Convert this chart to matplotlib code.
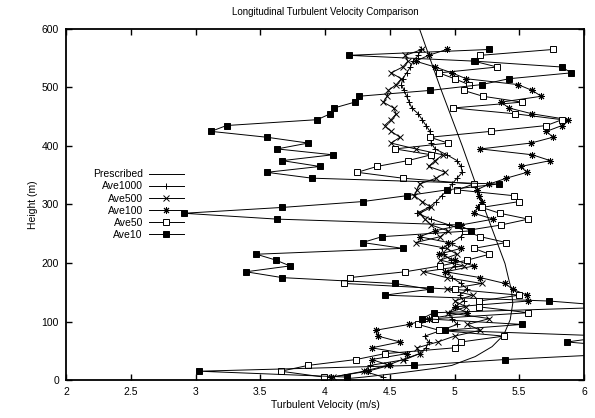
#!/usr/bin/env python3
"""Longitudinal turbulent velocity: prescribed profile vs running averages."""
import numpy as np
import matplotlib
matplotlib.use("Agg")
import matplotlib.pyplot as plt

# sample heights (m), shared by all averaged series
heights = np.arange(565, 0, -10)

# prescribed profile (height, velocity)
presc_h = [3, 5, 10, 15, 20, 25, 40, 57, 77, 103, 131, 154, 171, 199, 300, 400, 500, 600]
presc_u = [4.20, 4.30, 4.50, 4.68, 4.85, 4.98, 5.16, 5.29, 5.38, 5.43, 5.45, 5.44,
           5.42, 5.39, 5.22, 5.06, 4.89, 4.73]

# averaged series, listed from top (565 m) down to 5 m
ave1000 = [4.74, 4.72, 4.68, 4.66, 4.63, 4.60, 4.59, 4.61, 4.63, 4.65,
           4.67, 4.72, 4.75, 4.78, 4.81, 4.82, 4.82, 4.85, 4.94, 5.02,
           5.05, 5.06, 5.02, 4.98, 4.95, 4.90, 4.86, 4.80, 4.71, 4.82,
           4.96, 5.09, 5.05, 4.98, 4.90, 4.92, 4.97, 5.00, 4.95, 4.98,
           5.05, 5.10, 5.04, 5.07, 5.00, 4.96, 4.98, 5.02, 4.90, 4.77,
           4.80, 4.78, 4.73, 4.62, 4.35, 4.30, 4.45]
ave500 = [4.75, 4.62, 4.64, 4.60, 4.51, 4.59, 4.55, 4.49, 4.48, 4.45,
          4.53, 4.55, 4.51, 4.46, 4.51, 4.58, 4.51, 4.70, 4.91, 4.85,
          4.80, 4.93, 4.86, 4.73, 4.71, 4.69, 4.75, 4.82, 4.73, 4.77,
          4.82, 4.95, 4.89, 4.70, 4.94, 5.02, 4.89, 5.07, 4.76, 4.94,
          5.21, 4.94, 5.14, 5.00, 5.09, 4.95, 5.27, 5.10, 5.20, 5.00,
          4.87, 4.71, 4.73, 4.60, 4.48, 4.30, 4.06]
ave100 = [4.94, 4.80, 4.70, 4.85, 4.98, 5.09, 5.49, 5.60, 5.67, 5.36,
          5.42, 5.60, 5.88, 5.83, 5.71, 5.76, 5.59, 5.20, 5.60, 5.74,
          5.51, 5.56, 5.40, 5.27, 5.17, 5.19, 5.21, 5.18, 5.15, 5.30,
          5.05, 4.85, 4.73, 4.95, 5.05, 4.88, 5.00, 5.15, 4.93, 5.20,
          5.39, 5.45, 5.56, 5.57, 5.00, 5.10, 4.80, 4.65, 4.39, 4.41,
          4.58, 4.36, 4.63, 4.36, 4.50, 4.33, 4.05]
ave50 = [5.76, 5.20, 5.15, 5.33, 4.88, 5.00, 5.11, 5.07, 5.22, 5.52,
         4.99, 5.47, 5.83, 5.71, 5.28, 4.81, 4.95, 4.54, 4.82, 4.64,
         4.40, 4.25, 4.60, 5.15, 5.02, 5.46, 5.50, 5.21, 5.35, 5.57,
         5.36, 5.08, 5.20, 5.40, 5.15, 5.27, 5.10, 4.89, 4.62, 4.19,
         4.15, 5.00, 5.50, 5.19, 5.19, 5.57, 4.85, 4.72, 4.88, 5.38,
         5.05, 5.00, 4.46, 4.24, 3.87, 3.66, 3.99]
ave10 = [5.27, 4.185, 5.16, 5.83, 5.90, 5.42, 5.21, 4.81, 4.26, 4.23,
         4.07, 4.04, 3.94, 3.24, 3.12, 3.55, 3.87, 3.63, 4.06, 3.67,
         3.96, 3.55, 3.90, 5.34, 4.94, 4.63, 4.29, 3.67, 2.91, 3.63,
         5.03, 5.13, 4.44, 4.29, 4.60, 3.47, 3.62, 3.73, 3.39, 3.67,
         4.54, 4.81, 4.46, 5.73, 6.30, 4.84, 4.75, 5.52, 4.93, 6.20,
         5.87, 6.40, 6.30, 5.39, 4.69, 3.03, 4.17]

plt.rcParams["font.family"] = ["Liberation Sans", "DejaVu Sans"]
plt.rcParams["font.size"] = 7.5

fig = plt.figure(figsize=(5.95, 4.18), dpi=100)
ax = fig.add_axes([66 / 595, 38 / 418, 518 / 595, 351 / 418])

lw = 0.7
asterisk = (8, 2, 0)  # gnuplot-style "+ and x" star
ax.plot(presc_u, presc_h, color="k", lw=lw, label="Prescribed")
ax.plot(ave1000, heights, color="k", lw=lw, marker="+", ms=5, mew=0.7, label="Ave1000")
ax.plot(ave500, heights, color="k", lw=lw, marker="x", ms=4.2, mew=0.7, label="Ave500")
ax.plot(ave100, heights, color="k", lw=lw, marker=asterisk, ms=5, mew=0.7, label="Ave100")
ax.plot(ave50, heights, color="k", lw=lw, marker="s", ms=4, mfc="white", mew=0.7, label="Ave50")
ax.plot(ave10, heights, color="k", lw=lw, marker="s", ms=4.3, mfc="k", mew=0.7, label="Ave10")

ax.set_xlim(2, 6)
ax.set_ylim(0, 600)
ax.set_xticks(np.arange(2, 6.01, 0.5))
ax.set_xticklabels(["2", "2.5", "3", "3.5", "4", "4.5", "5", "5.5", "6"])
ax.set_yticks(np.arange(0, 601, 100))
ax.tick_params(direction="in", length=4, width=1.0, top=True, right=True, pad=5)
for sp in ax.spines.values():
    sp.set_linewidth(1.3)

ax.set_xlabel("Turbulent Velocity (m/s)", labelpad=2)
ax.set_ylabel("Height (m)", labelpad=3)
ax.set_title("Longitudinal Turbulent Velocity Comparison", fontsize=7, pad=10)

ax.legend(loc="upper left", bbox_to_anchor=(0.052, 0.60), frameon=False,
          markerfirst=False, handlelength=3.3, handletextpad=0.6,
          labelspacing=0.2, borderpad=0, borderaxespad=0, fontsize=7.5)

fig.savefig("out.png", dpi=100)
